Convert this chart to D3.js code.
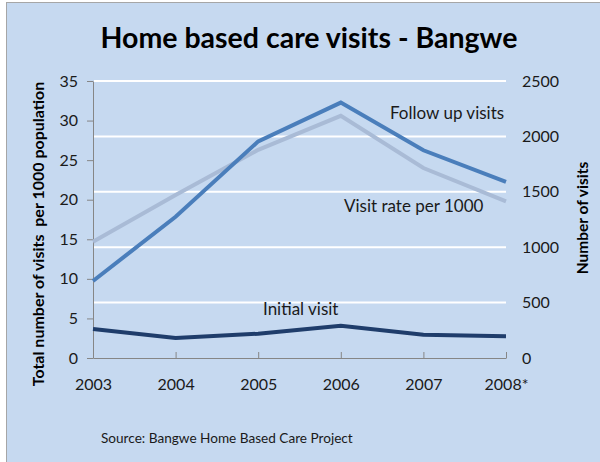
<!DOCTYPE html>
<html>
<head>
<meta charset="utf-8">
<script src="https://cdn.jsdelivr.net/npm/d3@7"></script>
<style>
  body { margin: 0; background: #fff; }
  svg { display: block; font-family: Lato, "Open Sans", sans-serif; }
</style>
</head>
<body>
<svg id="chart" width="600" height="462"></svg>
<script>
// data
var years = ["2003", "2004", "2005", "2006", "2007", "2008*"];
var followUp = [695, 1275, 1955, 2305, 1875, 1590];   // right axis, number of visits
var initial = [262, 180, 219, 291, 210, 196];        // right axis
var visitRate = [14.7, 20.6, 26.3, 30.6, 24.0, 19.8]; // left axis, per 1000
var leftTicks = [0, 5, 10, 15, 20, 25, 30, 35];
var rightTicks = [0, 500, 1000, 1500, 2000, 2500];

var svg = d3.select("#chart"),
  WIDTH = 600,
  HEIGHT = 462,
  MARGINS = { top: 81, right: 94, bottom: 104, left: 93 };

// panel
svg.append("rect")
  .attr("x", 6.5).attr("y", 2.5)
  .attr("width", 600).attr("height", 470)
  .attr("fill", "#c6d9f0")
  .attr("stroke", "#a6a6a6");

var x = d3.scalePoint().domain(years).range([MARGINS.left, WIDTH - MARGINS.right]);
var yL = d3.scaleLinear().domain([0, 35]).range([HEIGHT - MARGINS.bottom, MARGINS.top]);
var yR = d3.scaleLinear().domain([0, 2500]).range([HEIGHT - MARGINS.bottom, MARGINS.top]);

// gridlines from right axis
svg.append("g")
  .selectAll("line")
  .data(rightTicks.filter(function (d) { return d > 0; }))
  .join("line")
  .attr("x1", MARGINS.left + 1).attr("x2", WIDTH - MARGINS.right)
  .attr("y1", function (d) { return yR(d); }).attr("y2", function (d) { return yR(d); })
  .attr("stroke", "#fff").attr("stroke-width", 2);

// left axis
var yAxisL = svg.append("g")
  .attr("transform", "translate(" + MARGINS.left + ",0)")
  .call(d3.axisLeft(yL).tickValues(leftTicks).tickSize(6).tickPadding(9).tickSizeOuter(0));

// right axis (labels only)
var yAxisR = svg.append("g")
  .attr("transform", "translate(" + (WIDTH - MARGINS.right) + ",0)")
  .call(d3.axisRight(yR).tickValues(rightTicks).tickFormat(d3.format("d")).tickSize(0).tickPadding(16));
yAxisR.select(".domain").remove();

// x axis, ticks pointing up
var xAxis = svg.append("g")
  .attr("transform", "translate(0," + (HEIGHT - MARGINS.bottom) + ")")
  .call(d3.axisBottom(x).tickSize(-6).tickPadding(21).tickSizeOuter(0));
xAxis.selectAll(".tick line").filter(function (d, i) { return i === 0; }).remove();

[yAxisL, yAxisR, xAxis].forEach(function (g) {
  g.select(".domain").attr("stroke", "#868686");
  g.selectAll(".tick line").attr("stroke", "#868686");
  g.selectAll("text").attr("fill", "#1a1a1a")
    .style("font-family", "Lato, sans-serif").style("font-size", "16px");
});

// lines
var lineL = d3.line().x(function (d, i) { return x(years[i]); }).y(function (d) { return yL(d); });
var lineR = d3.line().x(function (d, i) { return x(years[i]); }).y(function (d) { return yR(d); });

svg.append("path").datum(visitRate).attr("d", lineL)
  .attr("fill", "none").attr("stroke", "#a9bbd6").attr("stroke-width", 4);
svg.append("path").datum(followUp).attr("d", lineR)
  .attr("fill", "none").attr("stroke", "#4a7ebb").attr("stroke-width", 4);
svg.append("path").datum(initial).attr("d", lineR)
  .attr("fill", "none").attr("stroke", "#1f3d6b").attr("stroke-width", 4);

// title
svg.append("text")
  .attr("x", 309).attr("y", 48)
  .attr("text-anchor", "middle")
  .style("font-size", "28.5px").style("font-weight", "bold")
  .attr("fill", "#000")
  .text("Home based care visits - Bangwe");

// axis titles
svg.append("text")
  .attr("transform", "translate(44,234) rotate(-90)")
  .attr("text-anchor", "middle")
  .style("font-size", "16px").style("font-weight", "bold")
  .attr("fill", "#000")
  .attr("xml:space", "preserve")
  .text("Total number of visits  per 1000 population");

svg.append("text")
  .attr("transform", "translate(588,218) rotate(-90)")
  .attr("text-anchor", "middle")
  .style("font-size", "15.5px").style("font-weight", "bold")
  .attr("fill", "#000")
  .text("Number of visits");

// series labels
var labels = [
  { t: "Follow up visits", x: 390, y: 119 },
  { t: "Visit rate per 1000", x: 344, y: 212 },
  { t: "Initial visit", x: 263, y: 315 }
];
svg.append("g").selectAll("text").data(labels).join("text")
  .attr("x", function (d) { return d.x; })
  .attr("y", function (d) { return d.y; })
  .style("font-size", "17px")
  .attr("fill", "#1a1a1a")
  .text(function (d) { return d.t; });

// source
svg.append("text")
  .attr("x", 101).attr("y", 443)
  .style("font-size", "13.6px")
  .attr("fill", "#1a1a1a")
  .text("Source: Bangwe Home Based Care Project");
</script>
</body>
</html>
